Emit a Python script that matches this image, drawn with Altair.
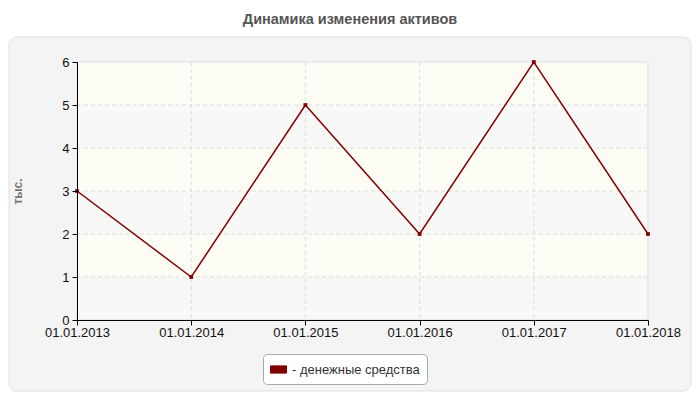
import altair as alt
import pandas as pd

dates = ["01.01.2013", "01.01.2014", "01.01.2015", "01.01.2016", "01.01.2017", "01.01.2018"]
values = [3, 1, 5, 2, 6, 2]
series = "денежные средства"
y_grid = [1, 2, 3, 4, 5]
x_grid = dates[1:-1]
band_lo = [0, 1, 2, 3, 4, 5]
band_hi = [1, 2, 3, 4, 5, 6]
band_kind = ["gray", "yellow", "gray", "yellow", "gray", "yellow"]

W, H = 571, 258
FONT = "Liberation Sans"

df = pd.DataFrame({"date": dates, "value": values, "series": [series] * len(dates)})

xscale = alt.Scale(type="point", padding=0, domain=dates)
yscale = alt.Scale(domain=[0, 6], nice=False, zero=True)

one = alt.Data(values=[{"k": 1}])

panel = alt.Chart(one).mark_rect(
    fill="#f4f4f4", stroke="#e0e0e0", strokeWidth=1, cornerRadius=8
).encode(x=alt.value(-68), x2=alt.value(614), y=alt.value(-25), y2=alt.value(329))

bands = alt.Chart(pd.DataFrame({"lo": band_lo, "hi": band_hi, "kind": band_kind})).mark_rect(
    strokeWidth=0
).encode(
    x=alt.value(0), x2=alt.value(W),
    y=alt.Y("lo:Q", scale=yscale), y2="hi:Q",
    fill=alt.Fill("kind:N", scale=alt.Scale(domain=["gray", "yellow"],
                                             range=["#f8f8f6", "#fcfcf5"]), legend=None),
)

plotborder = alt.Chart(one).mark_rect(
    fill=None, stroke="#dddddd", strokeWidth=1
).encode(x=alt.value(0), x2=alt.value(W), y=alt.value(0), y2=alt.value(H))

title = alt.Chart(one).mark_text(
    text="Динамика изменения активов", font=FONT, fontSize=14.5, fontWeight="bold",
    color="#555555", align="center", baseline="middle"
).encode(x=alt.value(273), y=alt.value(-42))

hgrid = alt.Chart(pd.DataFrame({"value": y_grid})).mark_rule(
    stroke="#dcdcdc", strokeDash=[4, 3], strokeWidth=1
).encode(y=alt.Y("value:Q", scale=yscale))

vgrid = alt.Chart(pd.DataFrame({"date": x_grid})).mark_rule(
    stroke="#dcdcdc", strokeDash=[4, 3], strokeWidth=1
).encode(x=alt.X("date:N", scale=xscale))

xaxis = alt.Axis(title=None, labelAngle=0, labelAlign="center", labelBaseline="top",
                 grid=False, domainColor="#000000",
                 tickColor="#000000", tickSize=5, labelColor="#111111",
                 labelFontSize=13, labelFont=FONT, labelPadding=1, zindex=1,
                 labelOverlap=False, labelFlush=False)
yaxis = alt.Axis(title="тыс.", grid=False, domainColor="#000000", tickColor="#000000",
                 tickSize=5, labelColor="#111111", labelFontSize=13, labelFont=FONT,
                 labelPadding=3, values=[0, 1, 2, 3, 4, 5, 6], titleColor="#777777",
                 titleFont=FONT, titleFontSize=12, titleFontWeight="bold",
                 titleX=-53, titleY=129, zindex=1)

base = alt.Chart(df)
line = base.mark_line(strokeWidth=1.5).encode(
    x=alt.X("date:N", scale=xscale, axis=xaxis, sort=None),
    y=alt.Y("value:Q", scale=yscale, axis=yaxis),
    color=alt.Color("series:N", scale=alt.Scale(range=["#800000"]),
                    legend=alt.Legend(
                        title=None, orient="none", legendX=186, legendY=292,
                        fillColor="#ffffff", strokeColor="#aaaaaa", cornerRadius=4,
                        padding=7, symbolType="M-1,-0.45H1V0.45H-1Z", symbolSize=256,
                        symbolFillColor="#800000", symbolStrokeColor="#5a0000",
                        symbolStrokeWidth=1, labelFontSize=13, labelFont=FONT,
                        labelColor="#333333", labelExpr="'- ' + datum.label",
                        symbolOffset=0, labelOffset=5)),
)
points = base.mark_point(filled=True, size=14, shape="square", opacity=1, color="#800000").encode(
    x=alt.X("date:N", scale=xscale, sort=None),
    y=alt.Y("value:Q", scale=yscale),
)

chart = alt.layer(panel, bands, plotborder, hgrid, vgrid, line, points, title).properties(
    width=W, height=H,
    autosize=alt.AutoSizeParams(type="none"),
    padding={"left": 69, "top": 54, "right": 44, "bottom": 72},
    background="#ffffff",
).configure_view(stroke=None).configure(font=FONT)

chart.save("out.html", embed_options={"renderer": "svg", "actions": False})
